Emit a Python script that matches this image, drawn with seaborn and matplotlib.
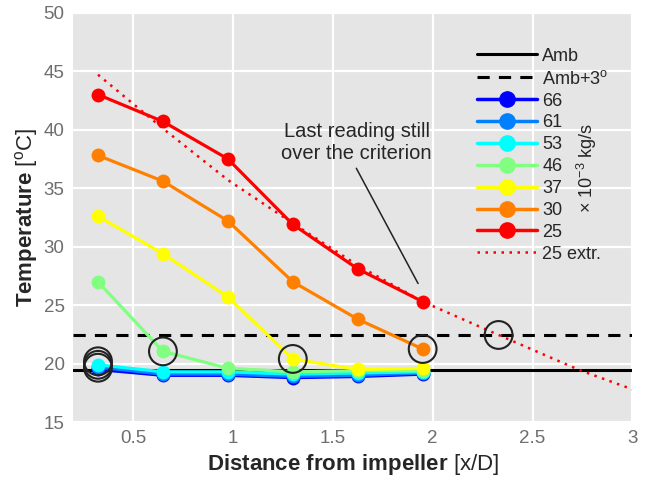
import numpy as np
import pandas as pd
import matplotlib
matplotlib.use("Agg")
import matplotlib.pyplot as plt
import seaborn as sns
from matplotlib.lines import Line2D

# ---- data ----
distance = [0.325, 0.65, 0.975, 1.30, 1.625, 1.95]
flows = ["66", "61", "53", "46", "37", "30", "25"]
t66 = [19.5, 19.0, 19.0, 18.8, 18.9, 19.1]
t61 = [19.7, 19.1, 19.1, 18.9, 19.0, 19.2]
t53 = [19.9, 19.3, 19.3, 19.1, 19.2, 19.3]
t46 = [27.0, 21.05, 19.6, 19.3, 19.4, 19.4]
t37 = [32.6, 29.4, 25.7, 20.4, 19.5, 19.6]
t30 = [37.8, 35.6, 32.2, 27.0, 23.8, 21.25]
t25 = [43.0, 40.7, 37.5, 31.9, 28.1, 25.3]
series = [t66, t61, t53, t46, t37, t30, t25]
colors = ["#0000ff", "#0080ff", "#00ffff", "#80ff80", "#ffff00", "#ff8000", "#ff0000"]

extr_x = [0.325, 0.65, 0.975, 1.30, 1.625, 1.95, 2.33, 2.735, 3.0]
extr_y = [44.7, 40.1, 35.7, 32.0, 28.4, 25.3, 22.45, 19.45, 17.8]

amb = 19.45
amb3 = 22.45

circle_x = [0.325, 0.325, 0.325, 0.65, 1.30, 1.95, 2.33]
circle_y = [20.2, 19.9, 19.65, 21.05, 20.4, 21.25, 22.45]

note_line_x = [1.618, 1.927]
note_line_y = [36.7, 26.85]

xticks = [0.5, 1, 1.5, 2, 2.5, 3]
xticklabels = ["0.5", "1", "1.5", "2", "2.5", "3"]
yticks = [15, 20, 25, 30, 35, 40, 45, 50]

# ---- style ----
sns.set_theme(style="darkgrid", rc={
    "axes.facecolor": "#e5e5e5",
    "grid.color": "white",
    "grid.linewidth": 1.6,
})
plt.rcParams["font.family"] = ["Liberation Sans", "DejaVu Sans"]
plt.rcParams["mathtext.fontset"] = "custom"
plt.rcParams["mathtext.rm"] = "Liberation Sans"
plt.rcParams["mathtext.it"] = "Liberation Sans:italic"
plt.rcParams["mathtext.bf"] = "Liberation Sans:bold"

fig = plt.figure(figsize=(6.49, 4.88), dpi=100)
ax = fig.add_axes([0.1125, 0.135, 0.862, 0.839])

df = pd.DataFrame({
    "x": np.tile(distance, len(flows)),
    "T": np.concatenate(series),
    "flow": np.repeat(flows, len(distance)),
})

ax.axhline(amb, color="black", lw=2.2, zorder=1)
ax.axhline(amb3, color="black", lw=2.2, ls=(0, (4, 3)), zorder=1)

sns.lineplot(data=df, x="x", y="T", hue="flow", hue_order=flows,
             palette=colors, marker="o", markersize=10, markeredgewidth=0,
             linewidth=2.3, legend=False, ax=ax, zorder=3, sort=False)

sns.lineplot(x=extr_x, y=extr_y, color="#ff0000", lw=1.8, ls=(0, (1, 2.2)),
             ax=ax, zorder=2)

ax.scatter(circle_x, circle_y, s=20**2, facecolors="none", edgecolors="#222222",
           linewidths=1.5, zorder=5)

ax.text(1.62, 38.9, "Last reading still\nover the criterion", ha="center",
        va="center", fontsize=14.5, linespacing=1.2)
ax.plot(note_line_x, note_line_y, color="#222222", lw=1.1, zorder=4)

ax.set_xlim(0.2, 3.0)
ax.set_ylim(15, 50)
ax.set_xticks(xticks)
ax.set_xticklabels(xticklabels)
ax.set_yticks(yticks)
ax.tick_params(axis="both", labelsize=13.5, labelcolor="#6e6e6e", length=0, pad=6)
for s in ax.spines.values():
    s.set_visible(False)

ax.set_xlabel(r"$\mathbf{Distance\ from\ impeller}$ [x/D]", fontsize=16, labelpad=3)
ax.set_ylabel(r"$\mathbf{Temperature}$ [$^{\rm o}$C]", fontsize=16, labelpad=3)

handles = [Line2D([], [], color="black", lw=2.2),
           Line2D([], [], color="black", lw=2.2, ls=(0, (4, 3)))]
labels = ["Amb", r"Amb+3$^{\rm o}$"]
for f, c in zip(flows, colors):
    handles.append(Line2D([], [], color=c, lw=2.5, marker="o", markersize=11))
    labels.append(f)
handles.append(Line2D([], [], color="#ff0000", lw=1.8, ls=(0, (1, 2.2))))
labels.append("25 extr.")

leg = ax.legend(handles, labels, loc="upper left", bbox_to_anchor=(0.71, 0.932),
                frameon=False, fontsize=13, handlelength=3.3, handletextpad=0.3,
                labelspacing=0.27, borderaxespad=0)

ax.text(0.918, 0.62, r"× 10$^{-3}$ kg/s", transform=ax.transAxes, rotation=90,
        ha="center", va="center", fontsize=13)

fig.savefig("out.png", dpi=100)
